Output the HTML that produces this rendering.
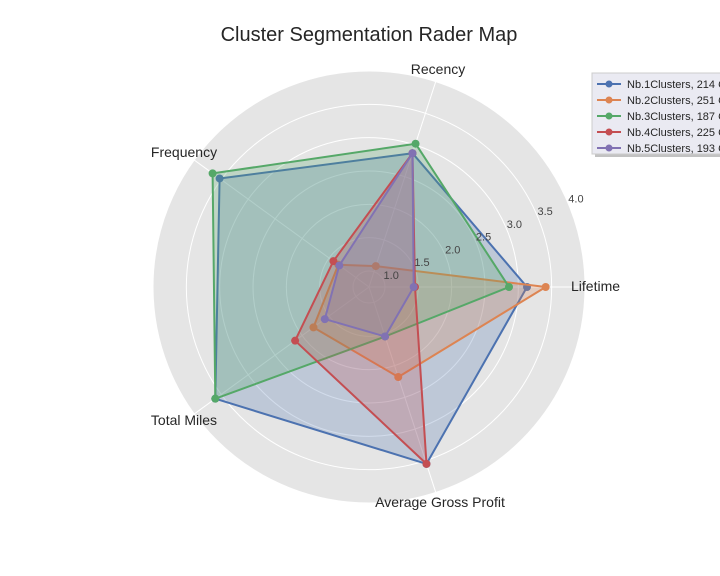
<!DOCTYPE html>
<html><head><meta charset="utf-8"><style>
body{margin:0;background:#fff;font-family:"Liberation Sans",sans-serif}
svg{display:block}
</style></head><body>
<svg id="chart" width="720" height="576" viewBox="0 0 720 576">
<text x="369" y="41" text-anchor="middle" font-size="20" fill="#262626">Cluster Segmentation Rader Map</text>
<g id="plot"></g>
<g id="legend"></g>
</svg>
<script>
const axesLabels = ["Lifetime","Recency","Frequency","Total Miles","Average Gross Profit"];
const seriesNames = ["Nb.1Clusters, 214 Customers","Nb.2Clusters, 251 Customers","Nb.3Clusters, 187 Customers","Nb.4Clusters, 225 Customers","Nb.5Clusters, 193 Customers"];
const cluster1 = [3.13, 2.87, 3.53, 3.61, 3.55];
const cluster2 = [3.41, 1.09, 1.33, 1.79, 2.18];
const cluster3 = [2.86, 3.02, 3.66, 3.61, 1.54];
const cluster4 = [1.45, 2.87, 1.42, 2.13, 3.55];
const cluster5 = [1.43, 2.87, 1.31, 1.58, 1.54];
const tickLabels = ["1.0","1.5","2.0","2.5","3.0","3.5","4.0"];
const tickValues = [1.0,1.5,2.0,2.5,3.0,3.5,4.0];
const colors = ["#4C72B0","#DD8452","#55A868","#C44E52","#8172B3"];
const allSeries = [cluster1,cluster2,cluster3,cluster4,cluster5];

const NS="http://www.w3.org/2000/svg";
const cx=369, cy=287, R=216, rmin=0.76, rmax=4.0;
function rScale(v){return (v-rmin)/(rmax-rmin)*R;}
function ang(i){return i*2*Math.PI/axesLabels.length;}
function pt(i,v){const r=rScale(v),a=ang(i);return [cx+r*Math.cos(a), cy-r*Math.sin(a)];}
function mk(tag,attrs,parent){const e=document.createElementNS(NS,tag);for(const k in attrs)e.setAttribute(k,attrs[k]);parent.appendChild(e);return e;}
const plot=document.getElementById('plot');
const bg=mk('circle',{cx:cx,cy:cy,r:R,fill:'#E5E5E5'},plot);


tickValues.forEach((v,k)=>{
  const c=mk('circle',{cx:cx,cy:cy,r:rScale(v),fill:'none',stroke:'#fff','stroke-width':1},plot);
  
  
});
axesLabels.forEach((lab,i)=>{
  const [x,y]=pt(i,rmax);
  const l=mk('line',{x1:cx,y1:cy,x2:x,y2:y,stroke:'#fff','stroke-width':1},plot);
  
  
});
allSeries.forEach((s,k)=>{
  const pts=s.map((v,i)=>pt(i,v));
  const d=pts.map(p=>p[0].toFixed(1)+','+p[1].toFixed(1)).join(' ');
  const g=mk('g',{},plot);
  
  
  const poly=mk('polygon',{points:d,fill:colors[k],'fill-opacity':0.25,stroke:colors[k],'stroke-width':2,'stroke-linejoin':'round'},g);
  
  
  pts.forEach(p=>{
    const c=mk('circle',{cx:p[0],cy:p[1],r:4,fill:colors[k]},g);
    
    
  });
});
tickValues.forEach((v,k)=>{
  const r=rScale(v)+8, a=22.5*Math.PI/180;
  const t=mk('text',{x:cx+r*Math.cos(a),y:cy-r*Math.sin(a)+1,'font-size':11,fill:'#444','text-anchor':'middle'},plot);
  t.textContent=tickLabels[k];
  
  
});
const labPos=[[571,291,'start'],[438,74,'middle'],[184,157,'middle'],[184,425,'middle'],[440,507,'middle']];
axesLabels.forEach((lab,i)=>{
  const t=mk('text',{x:labPos[i][0],y:labPos[i][1],'font-size':14,fill:'#262626','text-anchor':labPos[i][2]},plot);
  t.textContent=lab;
  
  
});
const leg=document.getElementById('legend');


mk('rect',{x:595,y:76,width:140,height:81,fill:'#999','fill-opacity':0.6},leg);
mk('rect',{x:592,y:73,width:140,height:81,fill:'#EAEAF2',stroke:'#ccc'},leg);
seriesNames.forEach((n,k)=>{
  const y=84+k*16;
  const g=mk('g',{},leg);
  
  
  mk('line',{x1:597,y1:y,x2:621,y2:y,stroke:colors[k],'stroke-width':2},g);
  mk('circle',{cx:609,cy:y,r:3.5,fill:colors[k]},g);
  const t=mk('text',{x:627,y:y+4,'font-size':11,fill:'#262626'},g);
  t.textContent=n;
});
</script>
</body></html>
